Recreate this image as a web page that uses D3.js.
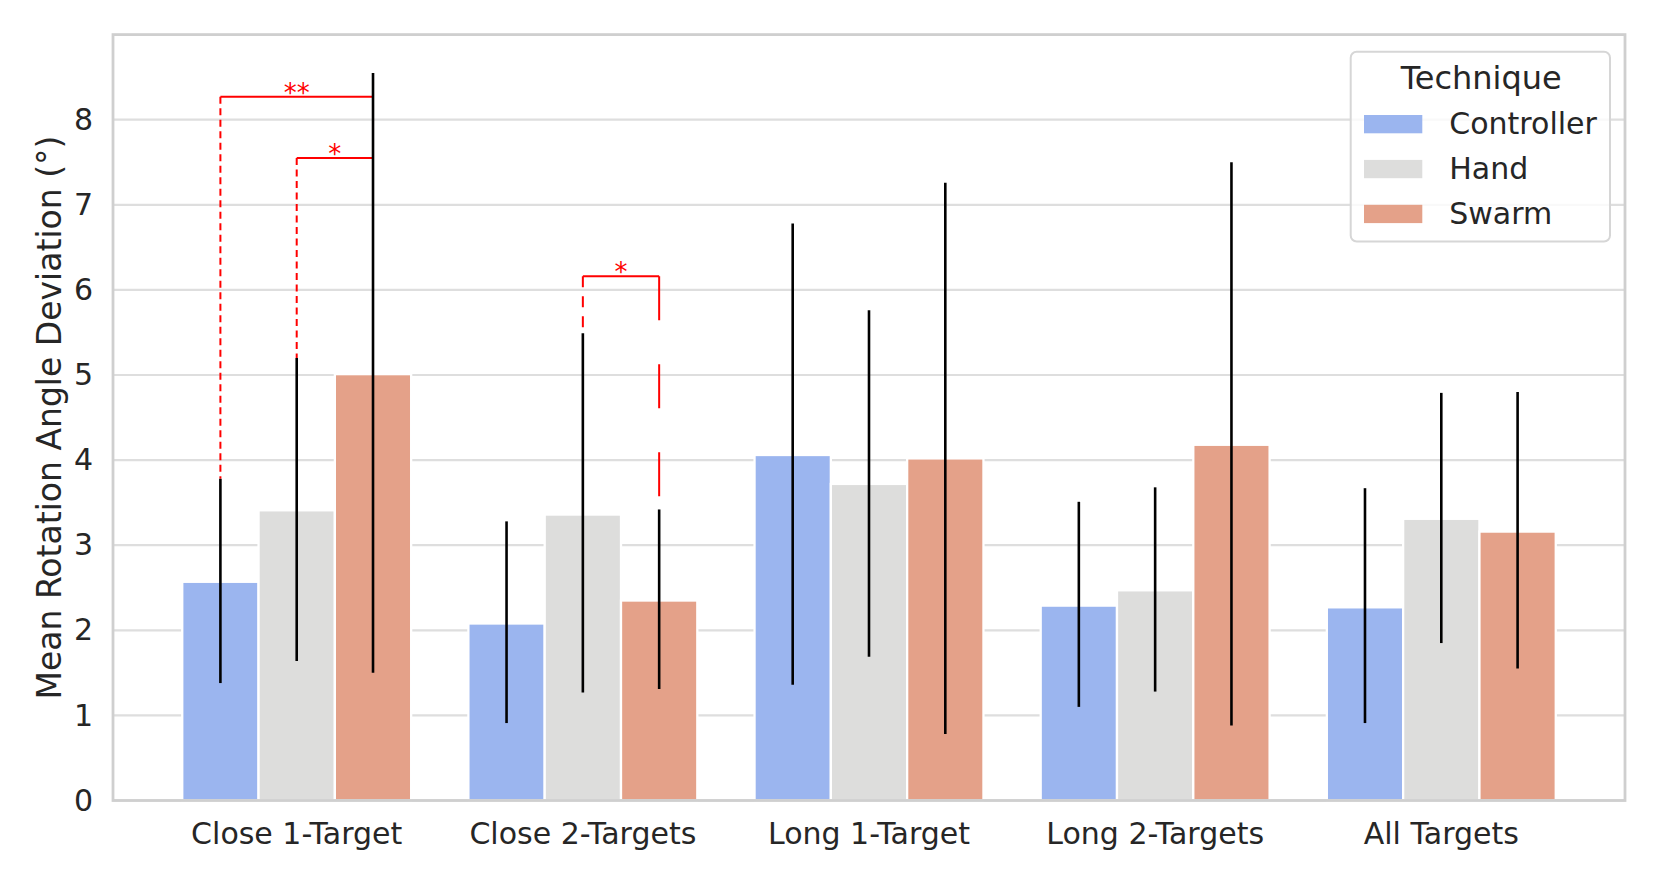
<!DOCTYPE html>
<html>
<head>
<meta charset="utf-8">
<script src="https://cdn.jsdelivr.net/npm/d3@7"></script>
<style>
  body { margin: 0; background: #fff; }
  text { font-family: "DejaVu Sans", sans-serif; fill: #262626; }
</style>
</head>
<body>
<svg id="chart"></svg>
<script>
// Chart data
const categories = ["Close 1-Target", "Close 2-Targets", "Long 1-Target", "Long 2-Targets", "All Targets"];
const techniques = ["Controller", "Hand", "Swarm"];

const controllerMeans = [2.57, 2.08, 4.06, 2.29, 2.27];
const handMeans = [3.41, 3.36, 3.72, 2.47, 3.31];
const swarmMeans = [5.01, 2.35, 4.02, 4.18, 3.16];

const controllerLow = [1.38, 0.91, 1.36, 1.10, 0.91];
const controllerHigh = [3.78, 3.28, 6.78, 3.51, 3.67];
const handLow = [1.64, 1.27, 1.69, 1.28, 1.85];
const handHigh = [5.20, 5.49, 5.76, 3.68, 4.79];
const swarmLow = [1.50, 1.31, 0.78, 0.88, 1.55];
const swarmHigh = [8.55, 3.42, 7.26, 7.50, 4.80];

const yTicks = [0, 1, 2, 3, 4, 5, 6, 7, 8];

// Significance brackets
const sigCategories = ["Close 1-Target", "Close 1-Target", "Close 2-Targets"];
const sigFrom = ["Controller", "Hand", "Hand"];
const sigTo = ["Swarm", "Swarm", "Swarm"];
const sigLevel = [8.27, 7.55, 6.16];
const sigLabels = ["**", "*", "*"];

// Set up dimensions
const width = 1661;
const height = 886;
const plot = { left: 113, right: 1625, top: 34.6, bottom: 800.5 };

const colorScale = d3.scaleOrdinal()
  .domain(techniques)
  .range(["#9bb5ef", "#dddddc", "#e4a189"]);

const svg = d3.select("#chart")
  .attr("width", width)
  .attr("height", height);

// Build the long table
const means = { Controller: controllerMeans, Hand: handMeans, Swarm: swarmMeans };
const lows = { Controller: controllerLow, Hand: handLow, Swarm: swarmLow };
const highs = { Controller: controllerHigh, Hand: handHigh, Swarm: swarmHigh };
const table = categories.flatMap((c, i) => techniques.map(t => ({
  category: c, technique: t, mean: means[t][i], low: lows[t][i], high: highs[t][i]
})));

// Scales
const x = d3.scaleBand()
  .domain(categories)
  .range([plot.left, plot.right])
  .paddingInner(0)
  .paddingOuter(0.142);

const inner = d3.scaleBand()
  .domain(techniques)
  .range([0.1 * x.bandwidth(), 0.9 * x.bandwidth()]);

const y = d3.scaleLinear()
  .domain([0, 9])
  .range([plot.bottom, plot.top]);

const cx = (c, t) => x(c) + inner(t) + inner.bandwidth() / 2;

// Gridlines
svg.append("g")
  .selectAll("line")
  .data(yTicks)
  .enter()
  .append("line")
  .attr("x1", plot.left)
  .attr("x2", plot.right)
  .attr("y1", d => y(d))
  .attr("y2", d => y(d))
  .attr("stroke", "#dedede")
  .attr("stroke-width", 2.2);

// Bars
svg.append("g")
  .selectAll("rect")
  .data(table)
  .enter()
  .append("rect")
  .attr("x", d => x(d.category) + inner(d.technique))
  .attr("y", d => y(d.mean))
  .attr("width", inner.bandwidth())
  .attr("height", d => y(0) - y(d.mean))
  .attr("fill", d => colorScale(d.technique))
  .attr("stroke", "#fff")
  .attr("stroke-width", 2.3);

// Significance brackets
const legDash = [["7,4.5", "7,4.5"], ["7,4.5", "7,4.5"], ["11,9", "44,44"]];
const highOf = (c, t) => highs[t][categories.indexOf(c)];
const sig = svg.append("g");
sigLevel.forEach((lvl, i) => {
  const c = sigCategories[i];
  const x1 = cx(c, sigFrom[i]);
  const x2 = cx(c, sigTo[i]);
  sig.append("line")
    .attr("x1", x1).attr("x2", x2)
    .attr("y1", y(lvl)).attr("y2", y(lvl))
    .attr("stroke", "#ff0000").attr("stroke-width", 2);
  sig.append("line")
    .attr("x1", x1).attr("x2", x1)
    .attr("y1", y(lvl)).attr("y2", y(highOf(c, sigFrom[i])))
    .attr("stroke", "#ff0000").attr("stroke-width", 2)
    .attr("stroke-dasharray", legDash[i][0]);
  sig.append("line")
    .attr("x1", x2).attr("x2", x2)
    .attr("y1", y(lvl)).attr("y2", y(highOf(c, sigTo[i])))
    .attr("stroke", "#ff0000").attr("stroke-width", 2)
    .attr("stroke-dasharray", legDash[i][1]);
  sig.append("text")
    .attr("x", (x1 + x2) / 2)
    .attr("y", y(lvl) + 5)
    .attr("text-anchor", "middle")
    .style("fill", "#ff0000")
    .style("font-size", "26px")
    .text(sigLabels[i]);
});

// Error bars
svg.append("g")
  .selectAll("line")
  .data(table)
  .enter()
  .append("line")
  .attr("x1", d => cx(d.category, d.technique))
  .attr("x2", d => cx(d.category, d.technique))
  .attr("y1", d => y(d.low))
  .attr("y2", d => y(d.high))
  .attr("stroke", "#000")
  .attr("stroke-width", 2.6);

// Frame
svg.append("rect")
  .attr("x", plot.left)
  .attr("y", plot.top)
  .attr("width", plot.right - plot.left)
  .attr("height", plot.bottom - plot.top)
  .attr("fill", "none")
  .attr("stroke", "#cfcfcf")
  .attr("stroke-width", 2.8);

// Axes
const yAxis = svg.append("g")
  .attr("transform", `translate(${plot.left},0)`)
  .call(d3.axisLeft(y).tickValues(yTicks).tickSize(0).tickPadding(20));
yAxis.select(".domain").remove();
yAxis.selectAll("text").style("font-size", "30px").attr("fill", "#262626");

const xAxis = svg.append("g")
  .attr("transform", `translate(0,${plot.bottom})`)
  .call(d3.axisBottom(x).tickSize(0).tickPadding(22));
xAxis.select(".domain").remove();
xAxis.selectAll("text").style("font-size", "30px").attr("fill", "#262626");

svg.append("text")
  .attr("transform", `translate(61,${(plot.top + plot.bottom) / 2}) rotate(-90)`)
  .attr("text-anchor", "middle")
  .style("font-size", "33px")
  .text("Mean Rotation Angle Deviation (°)");

// Legend
const legend = svg.append("g").attr("transform", "translate(1350.7,51.7)");
legend.append("rect")
  .attr("width", 259.3)
  .attr("height", 189.8)
  .attr("rx", 6)
  .attr("fill", "#fff")
  .attr("fill-opacity", 0.8)
  .attr("stroke", "#d6d6d6")
  .attr("stroke-width", 2);
legend.append("text")
  .attr("x", 130.5)
  .attr("y", 37.6)
  .attr("text-anchor", "middle")
  .style("font-size", "32px")
  .text("Technique");
techniques.forEach((t, i) => {
  legend.append("rect")
    .attr("x", 13.3)
    .attr("y", 63.3 + i * 44.9)
    .attr("width", 58.3)
    .attr("height", 18.3)
    .attr("fill", colorScale(t));
  legend.append("text")
    .attr("x", 98.6)
    .attr("y", 82.6 + i * 44.9)
    .style("font-size", "30px")
    .text(t);
});
</script>
</body>
</html>
